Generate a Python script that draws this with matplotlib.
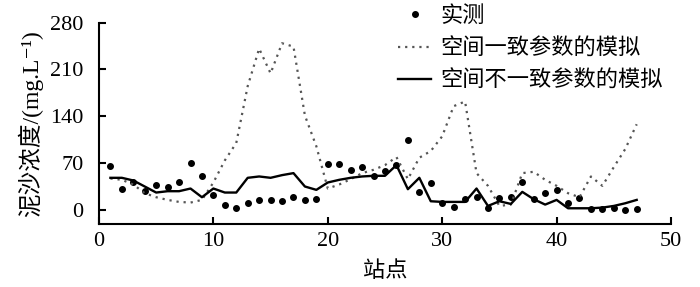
import matplotlib
matplotlib.use('agg')
import matplotlib.pyplot as plt
import numpy as np

plt.rcParams['font.family'] = ['Liberation Serif', 'Noto Sans CJK SC', 'DejaVu Sans']

# station index 1..47
stations = list(range(1, 48))

observed = [65, 31, 42, 29, 38, 34, 42, 70, 50, 23,
            7, 3.5, 11, 15, 15, 13, 19, 15, 17, 68,
            68, 60, 64, 51, 58, 67, 104, 27, 40, 10,
            5, 17, 20, 3, 18, 20, 41, 16, 26, 30,
            11, 18, 2, 1.5, 2.5, 0, 1.5]

sim_uniform = [47, 45, 38, 25, 19, 15, 12, 11, 15, 41,
               74, 100, 185, 241, 204, 249, 244, 141, 95, 32,
               38, 46, 55, 60, 67, 79, 46, 78, 88, 110,
               155, 162, 55, 36, 6, 8, 55, 57, 45, 36,
               25, 19, 50, 36, 64, 91, 128]

sim_varying = [48, 48, 44, 35, 26, 28, 28, 32, 19, 32,
               26, 26, 48, 50, 48, 52, 55, 35, 30, 41,
               45, 48, 50, 51, 51, 67, 31, 48, 13, 12,
               12, 12, 32, 6, 13, 9, 27, 16, 8, 15,
               2.5, 2.5, 2.5, 3.5, 6, 10, 15]

labels = ['实测', '空间一致参数的模拟', '空间不一致参数的模拟']

fig = plt.figure(figsize=(7, 2.87), dpi=100)
ax = fig.add_axes([0.1414, 0.2195, 0.8172, 0.7021])

ax.plot(stations, observed, linestyle='none', marker='o', markersize=4,
        color='black', label=labels[0])
ax.plot(stations, sim_uniform, linestyle=(0, (1, 2.2)), linewidth=1.6,
        color='#555555', label=labels[1])
ax.plot(stations, sim_varying, linestyle='-', linewidth=1.7,
        color='black', label=labels[2])

ax.set_xlim(0, 50)
ax.set_ylim(-21, 280)
ax.set_xticks([0, 10, 20, 30, 40, 50])
ax.set_yticks([0, 70, 140, 210, 280])
ax.spines['top'].set_visible(False)
ax.spines['right'].set_visible(False)
ax.spines['left'].set_linewidth(1.5)
ax.spines['bottom'].set_linewidth(1.5)
ax.tick_params(direction='in', length=5, width=1.5, labelsize=16)
ax.tick_params(axis='x', pad=6)
ax.tick_params(axis='y', pad=11)

ax.set_xlabel('站点', fontsize=16, labelpad=7)
ax.set_ylabel('泥沙浓度/(mg.L⁻¹)', fontsize=17, labelpad=5)

fig.legend(loc='upper left', bbox_to_anchor=(398 / 700, 0.978),
           frameon=False, fontsize=16, handlelength=1.5,
           handletextpad=0.4, labelspacing=0.5, borderpad=0,
           borderaxespad=0)

fig.savefig('out.png', dpi=100)
